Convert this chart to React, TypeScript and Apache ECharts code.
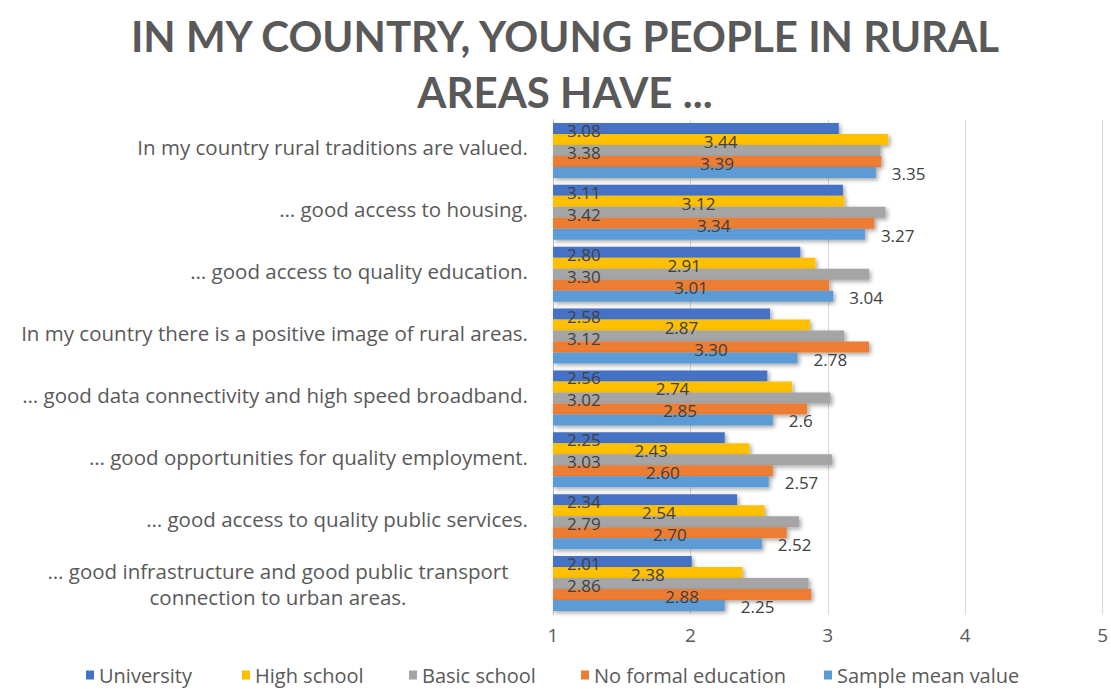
import React, { useEffect, useRef } from "react";
import * as echarts from "echarts";

const categories = [
  "In my country rural traditions are valued.",
  "… good access to housing.",
  "… good access to quality education.",
  "In my country there is a positive image of rural areas.",
  "… good data connectivity and high speed broadband.",
  "… good opportunities for quality employment.",
  "… good access to quality public services.",
  "… good infrastructure and good public transport\nconnection to urban areas.",
];

const seriesNames = ["University", "High school", "Basic school", "No formal education", "Sample mean value"];

const university = [3.08, 3.11, 2.8, 2.58, 2.56, 2.25, 2.34, 2.01];
const highSchool = [3.44, 3.12, 2.91, 2.87, 2.74, 2.43, 2.54, 2.38];
const basicSchool = [3.38, 3.42, 3.3, 3.12, 3.02, 3.03, 2.79, 2.86];
const noFormal = [3.39, 3.34, 3.01, 3.3, 2.85, 2.6, 2.7, 2.88];
const sampleMean = [3.35, 3.27, 3.04, 2.78, 2.6, 2.57, 2.52, 2.25];
const sampleMeanLabels = ["3.35", "3.27", "3.04", "2.78", "2.6", "2.57", "2.52", "2.25"];

const xTicks = [1, 2, 3, 4, 5];

const colors = ["#4472C4", "#FFC000", "#A5A5A5", "#ED7D31", "#5B9BD5"];
const legendLefts = [86, 242, 409, 581, 824];
const FONT = "'Open Sans', 'Noto Sans', sans-serif";
const TITLE_FONT = "Lato, 'Open Sans', sans-serif";

export default function App() {
  const ref = useRef<HTMLDivElement>(null);
  useEffect(() => {
    if (!ref.current) return;
    const chart = echarts.init(ref.current, null, { renderer: "svg" });
    const data = [university, highSchool, basicSchool, noFormal, sampleMean];
    const labelPos: any[] = [
      { position: "insideLeft", distance: 14, offset: [0, 2] },
      { position: "inside", offset: [0, 2] },
      { position: "insideLeft", distance: 14, offset: [0, 2] },
      { position: "inside", offset: [0, 2] },
      { position: "right", distance: 16, offset: [0, 1] },
    ];
    const series = data.map((d, i) => ({
      name: seriesNames[i],
      type: "bar",
      data: d,
      barGap: "0%",
      barCategoryGap: "11%",
      itemStyle: {
        color: colors[i],
        shadowBlur: 4,
        shadowOffsetX: 2,
        shadowOffsetY: 2,
        shadowColor: "rgba(0,0,0,0.35)",
      },
      label: {
        show: true,
        ...labelPos[i],
        color: "#404040",
        fontFamily: FONT,
        fontSize: 17,
        formatter: (p: any) => (i === 4 ? sampleMeanLabels[p.dataIndex] : Number(p.value).toFixed(2)),
      },
    }));
    const legends = seriesNames.map((n, i) => ({
      top: 665,
      left: legendLefts[i],
      padding: 0,
      itemWidth: 8,
      itemHeight: 9,
      icon: "rect",
      data: [n],
      textStyle: { fontFamily: FONT, fontSize: 20, color: "#595959" },
    }));
    chart.setOption({
      animation: false,
      backgroundColor: "#ffffff",
      color: colors,
      title: {
        text: "IN MY COUNTRY, YOUNG PEOPLE IN RURAL\nAREAS HAVE ...",
        left: 560,
        textAlign: "center",
        top: 3,
        textStyle: {
          fontFamily: TITLE_FONT,
          fontWeight: "bold",
          fontSize: 42,
          lineHeight: 56,
          color: "#595959",
        },
      },
      legend: legends,
      grid: { left: 553, right: 6, top: 119.5, bottom: 74.5, containLabel: false },
      xAxis: {
        type: "value",
        min: xTicks[0],
        max: xTicks[xTicks.length - 1],
        interval: 1,
        axisLine: { show: false },
        axisTick: { show: false },
        splitLine: { show: true, lineStyle: { color: "#D9D9D9", width: 1 } },
        axisLabel: { fontFamily: FONT, fontSize: 19, color: "#595959", margin: 11 },
      },
      yAxis: {
        type: "category",
        inverse: true,
        data: categories,
        axisLine: { show: true, lineStyle: { color: "#BFBFBF" } },
        axisTick: { show: false },
        axisLabel: {
          margin: 25,
          fontFamily: FONT,
          fontSize: 20.5,
          color: "#595959",
          formatter: (v: string) => {
            if (v.indexOf("\n") >= 0) {
              return v.split("\n").map((s) => "{c|" + s + "}").join("\n");
            }
            return "{n|" + v + "}";
          },
          rich: {
            n: { fontFamily: FONT, fontSize: 20.5, color: "#595959", lineHeight: 26, padding: [0, 0, 6, 0] },
            c: { width: 500, align: "center", fontFamily: FONT, fontSize: 20.5, color: "#595959", lineHeight: 26 },
          },
        },
      },
      series,
    });
    return () => chart.dispose();
  }, []);
  return (
    <div
      ref={ref}
      style={{ position: "absolute", left: 0, top: 0, width: 1111, height: 689 }}
    />
  );
}
